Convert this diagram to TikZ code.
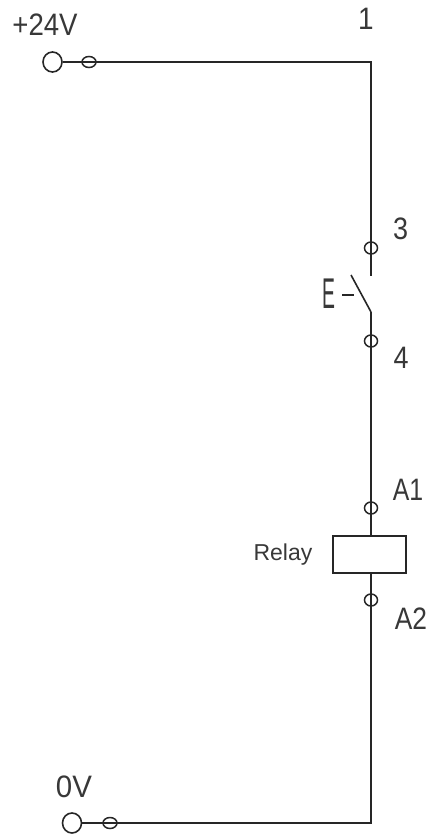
\documentclass[tikz,border=0pt]{standalone}
\usepackage{graphicx}
\usepackage{fontspec}
\setmainfont{Liberation Sans}
\usetikzlibrary{shapes.geometric}
\definecolor{ink}{gray}{0.15}
\definecolor{labink}{gray}{0.22}
\tikzset{
  x=1pt,y=1pt,
  wire/.style={draw=ink,line width=2pt},
  bigterm/.style={ellipse,draw=ink,line width=1.6pt,fill=white,minimum width=19pt,minimum height=20pt,inner sep=0pt},
  smallterm/.style={ellipse,draw=ink,line width=1.5pt,minimum width=14pt,minimum height=11pt,inner sep=0pt},
  vterm/.style={ellipse,draw=ink,line width=1.5pt,minimum width=13pt,minimum height=12pt,inner sep=0pt},
  coil/.style={rectangle,draw=ink,line width=1.8pt,fill=white,minimum width=73pt,minimum height=37pt,inner sep=0pt},
  lab/.style={text=labink,font=\fontsize{31}{34}\selectfont,inner sep=0pt},
  smalllab/.style={text=labink,font=\fontsize{23}{26}\selectfont,inner sep=0pt}
}
\begin{document}
\begin{tikzpicture}
\useasboundingbox (0,0) rectangle (429,-834);
\fill[white] (0,0) rectangle (429,-834);
\coordinate (topc) at (371,-62);
\coordinate (botc) at (371,-823);
\coordinate (cont3) at (371,-276);
\coordinate (cont4) at (371,-312);
\coordinate (blade) at (351,-275);
\coordinate (dashL) at (342,-295);
\coordinate (dashR) at (354,-295);
\node[bigterm] (p24) at (52.5,-62) {};
\node[smallterm] (t24) at (89,-62) {};
\node[vterm] (t3) at (371,-248) {};
\node[vterm] (t4) at (371,-341) {};
\node[vterm] (ta1) at (371,-508) {};
\node[coil] (relay) at (369.5,-554.5) {};
\node[vterm] (ta2) at (371,-600) {};
\node[bigterm] (p0) at (72,-823) {};
\node[smallterm] (t0) at (110,-823) {};
\draw[wire] (p24.east) -- (t24.west) (t24.west) -- (topc) -- (cont3);
\draw[wire] (cont4) -- (relay.north -| cont4);
\draw[wire] (relay.south -| cont4) -- (botc) -- (p0.east);
\draw[draw=ink,line width=1.6pt] (cont4) -- (blade);
\draw[draw=ink,line width=1.4pt] (dashL) -- (dashR);
\node[lab] (l24) at (45,-25) {\scalebox{0.89}[1]{+24V}};
\node[lab] (l1) at (366,-19) {\scalebox{0.9}[1]{1}};
\node[lab] (l3) at (400.5,-229) {\scalebox{0.87}[1]{3}};
\node[lab] (lE) at (328.5,-294) {\fontsize{43}{44}\selectfont\scalebox{0.45}[1]{E}};
\node[lab] (l4) at (401,-358) {\scalebox{0.87}[1]{4}};
\node[lab] (lA1) at (408,-490) {\scalebox{0.8}[1]{A1}};
\node[smalllab] (lrel) at (283,-555) {Relay};
\node[lab] (lA2) at (411,-618.5) {\scalebox{0.85}[1]{A2}};
\node[lab] (l0) at (74,-786.5) {\scalebox{0.95}[1]{0V}};
\end{tikzpicture}
\end{document}
